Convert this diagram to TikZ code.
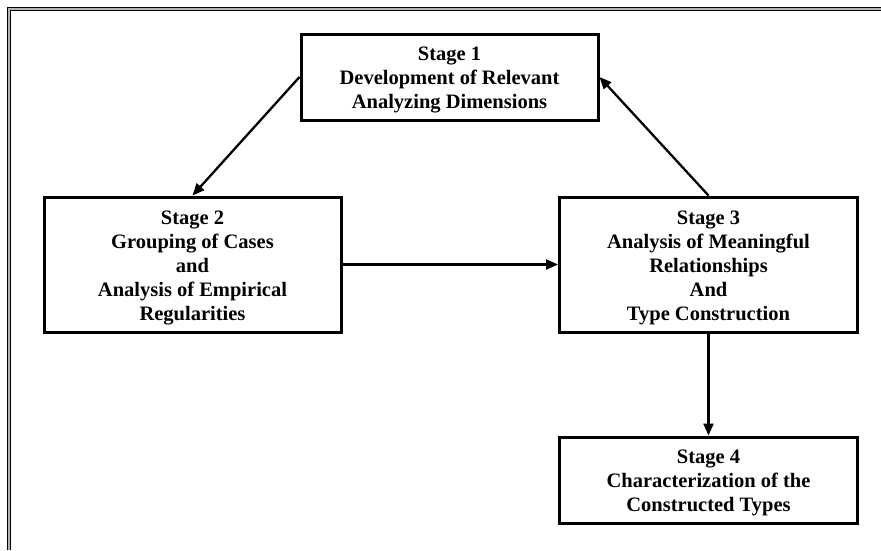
\documentclass[tikz,border=0pt]{standalone}
\usepackage{fontspec}
\setmainfont{Liberation Serif}
\usetikzlibrary{arrows.meta}
\begin{document}
\begin{tikzpicture}[x=1pt,y=-1pt,
  stagebox/.style={draw=black, line width=3pt, fill=white, inner sep=0pt},
  stagetext/.style={align=center, inner sep=0pt,
    font=\fontsize{20.5}{24}\selectfont\bfseries},
  flow/.style={line width=2.3pt, -{Triangle[length=12pt,width=10pt]}},
  frameline/.style={line width=1.3pt}]
\useasboundingbox (0,0) rectangle (881,550);
\fill[white] (0,0) rectangle (881,550);

% double frame along the top and left edges
\draw[gray!60, line width=2.4pt] (9,550) -- (9,9) -- (881,9);
\draw[frameline] (7.3,550) -- (7.3,7.3) -- (881,7.3);
\draw[frameline] (10.8,550) -- (10.8,10.8) -- (881,10.8);

% stage boxes
\node[stagebox, minimum width=297pt, minimum height=86pt]  (s1) at (449.5,77) {};
\node[stagebox, minimum width=297pt, minimum height=135pt] (s2) at (192.5,264.5) {};
\node[stagebox, minimum width=298pt, minimum height=135pt] (s3) at (708.5,264.5) {};
\node[stagebox, minimum width=298pt, minimum height=86pt]  (s4) at (708.5,480) {};

% stage captions, set a little below each box centre
\node[stagetext] (t1) at ([yshift=-3pt]s1.center)
  {Stage 1\\Development of Relevant\\Analyzing Dimensions};
\node[stagetext] (t2) at ([yshift=-3pt]s2.center)
  {Stage 2\\Grouping of Cases\\and\\Analysis of Empirical\\Regularities};
\node[stagetext] (t3) at ([yshift=-3pt]s3.center)
  {Stage 3\\Analysis of Meaningful\\Relationships\\And\\Type Construction};
\node[stagetext] (t4) at ([yshift=-3pt]s4.center)
  {Stage 4\\Characterization of the\\Constructed Types};

% connectors
\draw[flow] (s1.west) -- (s2.north);
\draw[flow] (s2.east) -- (s2.east -| s3.west);
\draw[flow] (s3.north) -- (s1.east);
\draw[flow] (s3.south) -- (s3.south |- s4.north);
\end{tikzpicture}
\end{document}
